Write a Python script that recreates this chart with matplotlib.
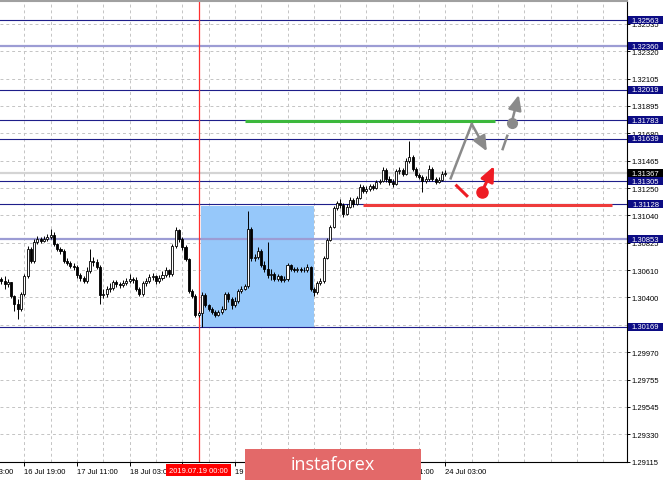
import numpy as np
import matplotlib
matplotlib.use('Agg')
import matplotlib.pyplot as plt
from matplotlib.patches import Rectangle, FancyArrowPatch

# hourly candles, bar 0 = 16 Jul 19:00
first_bar = -7
first_open = 1.30542
closes = [1.30527, 1.30503, 1.30519, 1.30410, 1.30347, 1.30308, 1.30425,
          1.30566, 1.30777, 1.30683, 1.30831, 1.30855, 1.30839, 1.30855, 1.30870, 1.30886,
          1.30816, 1.30777, 1.30761, 1.30683, 1.30667, 1.30644, 1.30636, 1.30573,
          1.30550, 1.30527, 1.30605, 1.30683, 1.30675, 1.30636, 1.30417, 1.30425,
          1.30464, 1.30472, 1.30519, 1.30503, 1.30495, 1.30511, 1.30527, 1.30542,
          1.30534, 1.30464, 1.30425, 1.30511, 1.30527, 1.30558, 1.30566, 1.30527,
          1.30550, 1.30573, 1.30613, 1.30581, 1.30800, 1.30925, 1.30855, 1.30792,
          1.30698, 1.30449, 1.30410, 1.30261, 1.30277, 1.30417, 1.30339, 1.30308,
          1.30285, 1.30261, 1.30285, 1.30308, 1.30425, 1.30386, 1.30339, 1.30370,
          1.30449, 1.30464, 1.30488, 1.30933, 1.30706, 1.30714, 1.30761, 1.30652,
          1.30620, 1.30573, 1.30581, 1.30542, 1.30566, 1.30534, 1.30542, 1.30652,
          1.30620, 1.30613, 1.30620, 1.30613, 1.30613, 1.30636, 1.30464, 1.30441,
          1.30511, 1.30527, 1.30706, 1.30847, 1.30948, 1.31097, 1.31136, 1.31120,
          1.31050, 1.31105, 1.31159, 1.31128, 1.31175, 1.31261, 1.31230, 1.31245,
          1.31269, 1.31253, 1.31300, 1.31308, 1.31394, 1.31323, 1.31300, 1.31284,
          1.31386, 1.31394, 1.31362, 1.31464, 1.31495, 1.31401, 1.31354, 1.31339,
          1.31308, 1.31323, 1.31401, 1.31323, 1.31300, 1.31315, 1.31362, 1.31367]
highs = [1.30558, 1.30566, 1.30542, 1.30519, 1.30417, 1.30386, 1.30441,
         1.30581, 1.30800, 1.30792, 1.30855, 1.30878, 1.30870, 1.30878, 1.30894, 1.30933,
         1.30909, 1.30823, 1.30792, 1.30777, 1.30706, 1.30683, 1.30667, 1.30652,
         1.30589, 1.30566, 1.30636, 1.30777, 1.30714, 1.30698, 1.30652, 1.30464,
         1.30488, 1.30511, 1.30534, 1.30534, 1.30519, 1.30534, 1.30550, 1.30581,
         1.30558, 1.30558, 1.30480, 1.30527, 1.30550, 1.30581, 1.30589, 1.30573,
         1.30573, 1.30605, 1.30636, 1.30620, 1.30816, 1.30948, 1.30933, 1.30870,
         1.30808, 1.30706, 1.30464, 1.30425, 1.30292, 1.30441, 1.30433, 1.30347,
         1.30324, 1.30300, 1.30300, 1.30331, 1.30441, 1.30441, 1.30402, 1.30402,
         1.30464, 1.30488, 1.30503, 1.31073, 1.30948, 1.30737, 1.30792, 1.30777,
         1.30683, 1.30831, 1.30620, 1.30597, 1.30581, 1.30573, 1.30566, 1.30667,
         1.30659, 1.30636, 1.30636, 1.30636, 1.30636, 1.30659, 1.30644, 1.30480,
         1.30527, 1.30550, 1.30722, 1.30862, 1.30964, 1.31112, 1.31151, 1.31167,
         1.31136, 1.31128, 1.31183, 1.31175, 1.31190, 1.31284, 1.31276, 1.31269,
         1.31284, 1.31284, 1.31315, 1.31323, 1.31417, 1.31409, 1.31347, 1.31323,
         1.31401, 1.31417, 1.31409, 1.31487, 1.31620, 1.31511, 1.31417, 1.31370,
         1.31354, 1.31347, 1.31433, 1.31417, 1.31339, 1.31339, 1.31386, 1.31394]
lows = [1.30503, 1.30464, 1.30480, 1.30394, 1.30292, 1.30230, 1.30292,
        1.30410, 1.30550, 1.30667, 1.30667, 1.30816, 1.30823, 1.30831, 1.30839, 1.30855,
        1.30800, 1.30761, 1.30737, 1.30667, 1.30652, 1.30628, 1.30613, 1.30550,
        1.30527, 1.30511, 1.30511, 1.30589, 1.30644, 1.30620, 1.30347, 1.30394,
        1.30402, 1.30441, 1.30456, 1.30480, 1.30472, 1.30480, 1.30495, 1.30511,
        1.30511, 1.30449, 1.30410, 1.30410, 1.30488, 1.30511, 1.30534, 1.30503,
        1.30511, 1.30534, 1.30558, 1.30558, 1.30566, 1.30784, 1.30831, 1.30769,
        1.30683, 1.30433, 1.30394, 1.30245, 1.30245, 1.30167, 1.30324, 1.30292,
        1.30269, 1.30245, 1.30253, 1.30269, 1.30300, 1.30363, 1.30308, 1.30324,
        1.30355, 1.30433, 1.30456, 1.30472, 1.30683, 1.30683, 1.30698, 1.30636,
        1.30597, 1.30550, 1.30534, 1.30527, 1.30527, 1.30519, 1.30519, 1.30527,
        1.30605, 1.30597, 1.30597, 1.30597, 1.30597, 1.30597, 1.30449, 1.30410,
        1.30425, 1.30495, 1.30511, 1.30698, 1.30839, 1.30941, 1.31081, 1.31097,
        1.31026, 1.31042, 1.31097, 1.31105, 1.31120, 1.31167, 1.31214, 1.31214,
        1.31230, 1.31237, 1.31245, 1.31284, 1.31300, 1.31300, 1.31276, 1.31261,
        1.31276, 1.31362, 1.31347, 1.31354, 1.31448, 1.31386, 1.31339, 1.31323,
        1.31222, 1.31292, 1.31308, 1.31308, 1.31284, 1.31292, 1.31308, 1.31347]

time_ticks = [0, 16, 32, 48, 64, 80, 96, 112, 128]
# labels fully covered (red date box, banner) are left blank
time_labels = ['16 Jul 19:00', '17 Jul 11:00', '18 Jul 03:00',
               '', '19 Jul 11:00', '', '', '23 Jul 11:00', '24 Jul 03:00']
cut_label_bar = -16
cut_label = '16 Jul 03:00'
price_ticks = [1.29115, 1.29330, 1.29545, 1.29755, 1.29970, 1.30185, 1.30400,
               1.30610, 1.30825, 1.31040, 1.31250, 1.31465, 1.31680, 1.31895,
               1.32105, 1.32320, 1.32535]
hidden_price_ticks = [1.30185]
levels = [1.32563, 1.32360, 1.32019, 1.31783, 1.31639, 1.31305, 1.31128,
          1.30853, 1.30169]
soft_levels = [1.32360, 1.30853]
bid = 1.31367
marker_bar = 53
marker_label = '2019.07.19 00:00'

plt.rcParams['font.family'] = ['Liberation Sans', 'DejaVu Sans']
fig = plt.figure(figsize=(6.65, 4.81), dpi=100)
ax = fig.add_axes([0, 1 - 463 / 481, 627 / 665, 461 / 481])

# dashed grid
for p in price_ticks:
    ax.axhline(p, color='#c4c4c4', lw=0.7, ls=(0, (3, 3)), zorder=0.5)
for t in range(-8, 184, 8):
    ax.axvline(t, color='#c4c4c4', lw=0.7, ls=(0, (3, 3)), zorder=0.5)

# blue zone
ax.add_patch(Rectangle((53.7, 1.30169), 34.4, 1.31112 - 1.30169,
                       fc='#96c8fa', ec='none', zorder=1))

# level lines
for lv in levels:
    if lv in soft_levels:
        ax.axhline(lv, color='#9c9cd4', lw=1.6, zorder=2)
    else:
        ax.axhline(lv, color='#1e1e8a', lw=0.8, zorder=2)
ax.axhline(bid, color='#d4d4d4', lw=1.6, zorder=1.5)
ax.axvline(marker_bar, color='#ff3030', lw=0.9, zorder=2.5)

# candles
closes_a = np.array(closes)
opens = np.r_[first_open, closes_a[:-1]]
idx = np.arange(first_bar, first_bar + len(closes_a))
up = closes_a >= opens
ax.vlines(idx, lows, highs, color='black', lw=0.7, zorder=3)
bottom = np.minimum(opens, closes_a)
height = np.maximum(np.abs(closes_a - opens), 0.00002)
ax.bar(idx[up], height[up], bottom=bottom[up], width=0.62, color='white',
       edgecolor='black', lw=0.6, zorder=4)
ax.bar(idx[~up], height[~up], bottom=bottom[~up], width=0.62, color='black',
       edgecolor='black', lw=0.6, zorder=4)

# forecast drawings
ax.plot([67.1, 143.1], [1.31775, 1.31775], color='#3cb83c', lw=2.2, zorder=5,
        solid_capstyle='butt')
ax.plot([102.9, 178.6], [1.31120, 1.31120], color='#ee3b3b', lw=2.2, zorder=5,
        solid_capstyle='butt')

gray = '#8a8a8a'
ax.plot([129.6, 136.0], [1.31329, 1.31753], color=gray, lw=1.8, zorder=6)
ax.add_patch(FancyArrowPatch((136.0, 1.31753), (140.6, 1.31540),
                             arrowstyle='-|>,head_length=0.45,head_width=0.2',
                             mutation_scale=20, color=gray, lw=1.8,
                             shrinkA=0, shrinkB=0, zorder=6))
ax.plot([145.4, 146.8], [1.31557, 1.31661], color=gray, lw=1.8, zorder=6)
ax.plot([148.1], [1.31761], 'o', color=gray, ms=7, zorder=6)
ax.add_patch(FancyArrowPatch((148.1, 1.31761), (150.3, 1.31980),
                             arrowstyle='-|>,head_length=0.45,head_width=0.2',
                             mutation_scale=20, color=gray, lw=1.8,
                             shrinkA=0, shrinkB=0, zorder=6))

red = '#ee1c24'
ax.plot([131.4, 134.5], [1.31271, 1.31193], color=red, lw=2.2, zorder=6)
ax.plot([139.0], [1.31219], 'o', color=red, ms=8, zorder=6)
ax.add_patch(FancyArrowPatch((139.0, 1.31219), (142.8, 1.31425),
                             arrowstyle='-|>,head_length=0.45,head_width=0.2',
                             mutation_scale=20, color=red, lw=2.2,
                             shrinkA=0, shrinkB=0, zorder=6))

# axes styling
ax.spines['left'].set_visible(False)
ax.spines['top'].set_color('#a0a0a0')
ax.spines['top'].set_linewidth(1.5)
ax.spines['right'].set_color('black')
ax.spines['right'].set_linewidth(0.8)
ax.spines['bottom'].set_color('black')
ax.spines['bottom'].set_linewidth(0.8)

ax.yaxis.tick_right()
ax.set_yticks(price_ticks)
ax.set_yticklabels(['' if p in hidden_price_ticks else '%.5f' % p
                    for p in price_ticks])
ax.set_xticks(time_ticks)
ax.set_xticklabels(time_labels)
for lab in ax.get_xticklabels():
    lab.set_horizontalalignment('left')
ax.tick_params(axis='y', labelsize=5.5, length=2.2, pad=1.2, width=0.7)
ax.tick_params(axis='x', labelsize=5.5, length=2.9, pad=1.5, width=0.7)

# limits after the ticks, since set_xticks widens the view
ax.set_xlim(-7.386, 183.19)
ax.set_ylim(1.29115, 1.32713)

xtr = ax.get_xaxis_transform()
# first time label starts left of the chart and is cut by the image edge
ax.annotate(cut_label, xy=(cut_label_bar, 0), xycoords=xtr, xytext=(0, -4.4),
            textcoords='offset points', ha='left', va='top', fontsize=5.5,
            annotation_clip=False)

# price boxes on the right scale
ytr = ax.get_yaxis_transform()
box_h = 0.000625
for lv in levels:
    ax.add_patch(Rectangle((628 / 627, lv - box_h / 2), 35 / 627, box_h,
                           transform=ytr, fc='#0c0c84', ec='none',
                           clip_on=False, zorder=10))
    ax.text((628 + 17.5) / 627, lv, '%.5f' % lv, transform=ytr, ha='center',
            va='center', fontsize=5.5, color='white', clip_on=False, zorder=11)
ax.add_patch(Rectangle((628 / 627, bid - box_h / 2), 35 / 627, box_h,
                       transform=ytr, fc='black', ec='none',
                       clip_on=False, zorder=10))
ax.text((628 + 17.5) / 627, bid, '%.5f' % bid, transform=ytr, ha='center',
        va='center', fontsize=5.5, color='white', clip_on=False, zorder=11)

# red date box on the time scale
ax.add_patch(Rectangle((marker_bar - 9.9, -0.0304), 19.8, 0.026,
                       transform=xtr, fc='#ff0000', ec='none',
                       clip_on=False, zorder=10))
ax.text(marker_bar, -0.0174, marker_label, transform=xtr, ha='center',
        va='center', fontsize=5.5, color='white', clip_on=False, zorder=11)

# instaforex banner
fig.add_artist(Rectangle((245 / 665, -0.01), 176 / 665, 0.0644 + 0.01,
                         transform=fig.transFigure, fc='#e36969', ec='none',
                         zorder=20))
fig.text(333 / 665, 1 - 470 / 481, 'instaforex', ha='center', va='baseline',
         color='white', fontsize=13, family=['Open Sans', 'DejaVu Sans'],
         zorder=21)

plt.savefig('out.png', dpi=100)
